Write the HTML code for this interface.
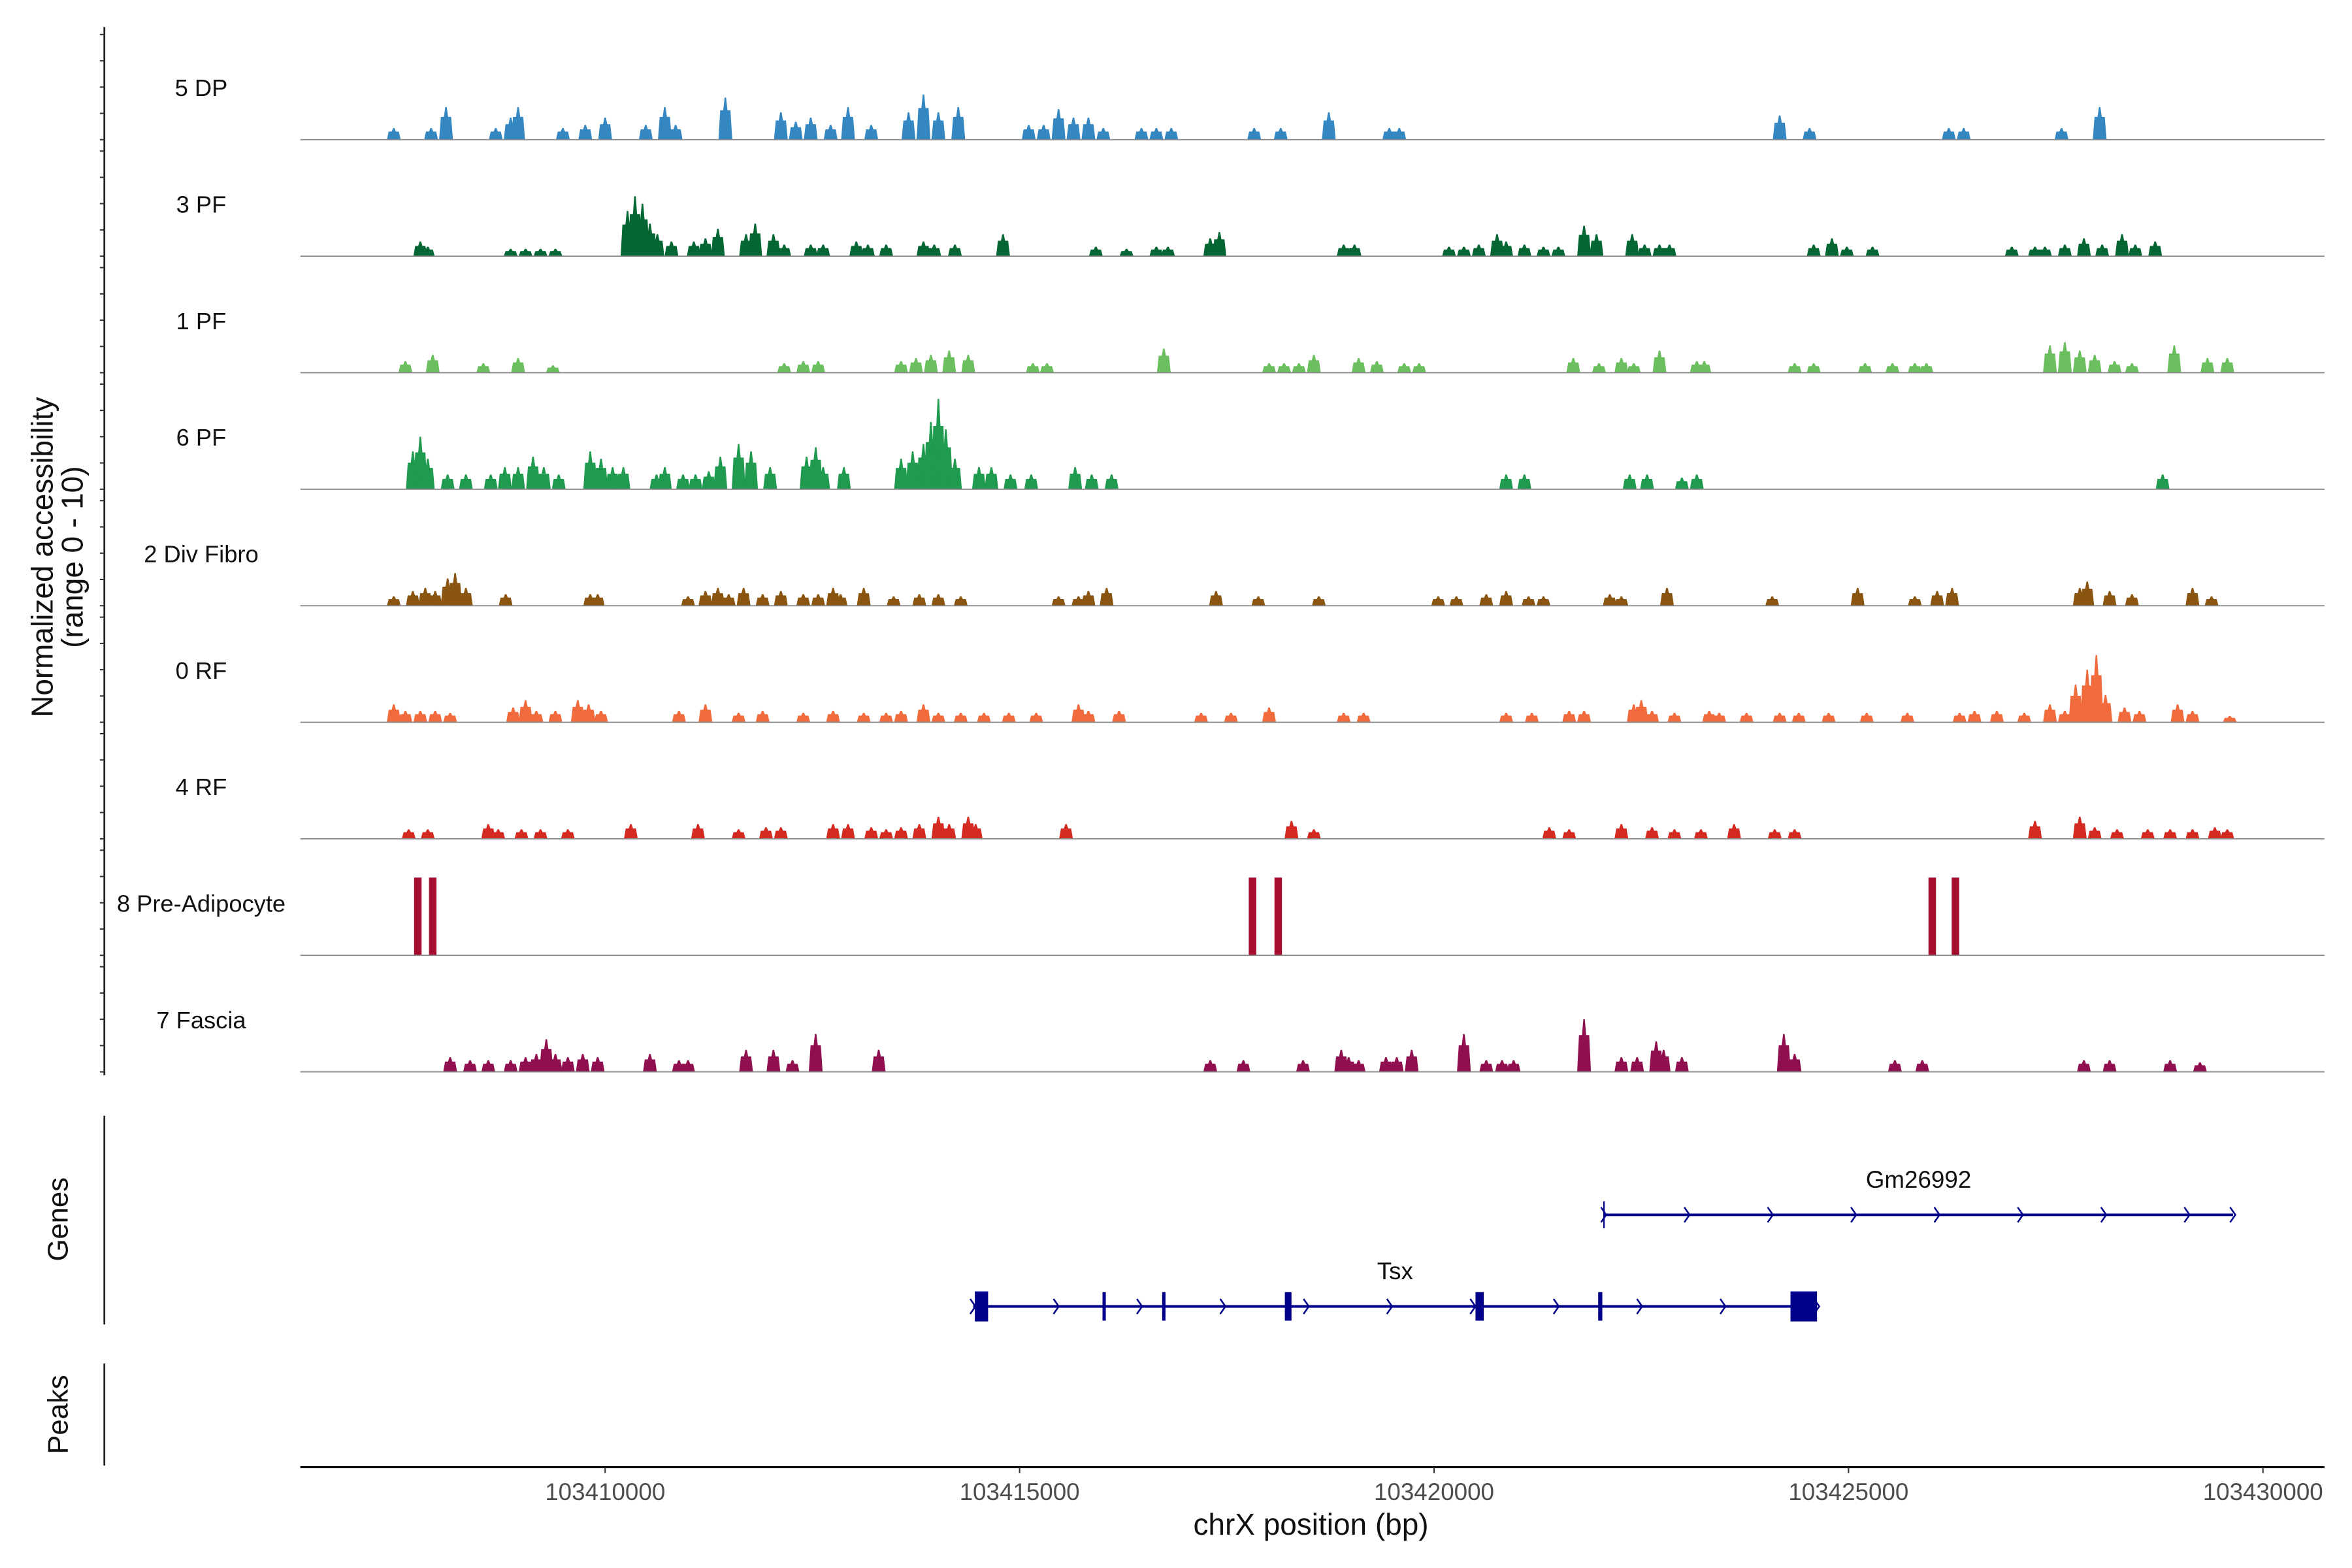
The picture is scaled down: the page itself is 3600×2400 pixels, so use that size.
<!DOCTYPE html>
<html><head><meta charset="utf-8"><style>
html,body{margin:0;padding:0;background:#fff;}
svg{display:block;font-family:"Liberation Sans",Arial,sans-serif;}
</style></head><body>
<svg id="chart" width="3600" height="2400" viewBox="0 0 1566.3 1044.2" preserveAspectRatio="none" xmlns="http://www.w3.org/2000/svg">
<rect x="0" y="0" width="1570" height="1050" fill="#fff"/>
<g id="tracks"></g>
<g id="genes"></g>
<g id="axes"></g>
</svg>
<script>
// positions in kb (genomic), values are normalized accessibility (0-10)
const xTickValues = [103410000, 103415000, 103420000, 103425000, 103430000];
const xTickLabels = ["103410000", "103415000", "103420000", "103425000", "103430000"];
const trackNames = ["5 DP", "3 PF", "1 PF", "6 PF", "2 Div Fibro", "0 RF", "4 RF", "8 Pre-Adipocyte", "7 Fascia"];
const trackColors = ["#3587c1", "#036633", "#6bbf5f", "#1f9a4e", "#8a5510", "#f26b3d", "#d42a22", "#a50e2f", "#8f0f4f"];

const dpPos = [103407.45,103407.90,103408.08,103408.68,103408.86,103408.95,103409.49,103409.76,103410.00,103410.49,103410.72,103410.85,103411.45,103412.12,103412.30,103412.48,103412.72,103412.93,103413.21,103413.66,103413.84,103414.02,103414.26,103415.11,103415.29,103415.47,103415.65,103415.83,103416.01,103416.47,103416.65,103416.83,103417.83,103418.15,103418.73,103419.46,103419.58,103424.17,103424.53,103426.21,103426.39,103427.57,103428.03];
const dpVal = [1.1,1.1,3.1,1.1,2.1,3.1,1.1,1.4,2.1,1.4,3.1,1.4,4.0,2.6,1.7,2.1,1.4,3.1,1.4,2.6,4.3,2.6,3.1,1.4,1.4,2.9,2.1,2.1,1.1,1.1,1.1,1.1,1.1,1.1,2.6,1.1,1.1,2.3,1.1,1.1,1.1,1.1,3.1];

const pf3Pos = [103407.77,103407.86,103408.86,103409.04,103409.22,103409.40,103410.27,103410.36,103410.45,103410.54,103410.63,103410.80,103411.07,103411.21,103411.36,103411.70,103411.81,103412.03,103412.16,103412.48,103412.63,103413.03,103413.17,103413.39,103413.84,103413.97,103414.22,103414.80,103415.92,103416.29,103416.65,103416.79,103417.30,103417.41,103418.91,103419.04,103420.18,103420.36,103420.54,103420.76,103420.87,103421.09,103421.32,103421.50,103421.81,103421.96,103422.39,103422.54,103422.72,103422.84,103424.58,103424.80,103424.98,103425.29,103426.97,103427.25,103427.37,103427.61,103427.84,103428.06,103428.30,103428.46,103428.70];
const pf3Val = [1.4,0.9,0.7,0.7,0.7,0.7,4.3,5.7,5.0,3.1,2.1,1.4,1.4,1.7,2.6,2.1,3.1,2.1,1.1,1.1,1.1,1.4,1.1,1.1,1.4,1.1,1.1,2.1,0.9,0.7,0.9,0.9,1.7,2.3,1.1,1.1,0.9,0.9,1.1,2.1,1.4,1.1,0.9,0.9,2.9,2.1,2.1,1.1,1.1,1.1,1.1,1.7,0.9,0.9,0.9,0.9,0.9,1.1,1.7,1.1,2.1,1.1,1.4];

const pf1Pos = [103407.59,103407.92,103408.53,103408.95,103409.37,103412.16,103412.39,103412.57,103413.57,103413.75,103413.93,103414.15,103414.38,103415.16,103415.33,103416.74,103418.01,103418.19,103418.37,103418.55,103419.09,103419.31,103419.64,103419.82,103421.68,103421.99,103422.26,103422.41,103422.72,103423.17,103423.26,103424.35,103424.58,103425.20,103425.53,103425.80,103425.94,103427.43,103427.61,103427.79,103427.97,103428.21,103428.42,103428.93,103429.33,103429.57];
const pf1Val = [1.1,1.7,0.9,1.4,0.7,0.9,1.1,1.1,1.1,1.4,1.7,2.1,1.7,0.9,0.9,2.3,0.9,0.9,0.9,1.7,1.4,1.1,0.9,0.9,1.4,0.9,1.4,0.9,2.1,1.1,1.1,0.9,0.9,0.9,0.9,0.9,0.9,2.6,2.9,2.1,1.7,1.1,0.9,2.6,1.4,1.4];

const pf6Pos = [103407.68,103407.77,103407.86,103408.10,103408.32,103408.62,103408.79,103408.95,103409.13,103409.26,103409.44,103409.82,103409.95,103410.09,103410.22,103410.62,103410.72,103410.94,103411.09,103411.25,103411.39,103411.61,103411.76,103411.99,103412.43,103412.54,103412.63,103412.88,103413.57,103413.71,103413.84,103413.93,103414.02,103414.11,103414.22,103414.51,103414.66,103414.89,103415.14,103415.67,103415.87,103416.11,103420.87,103421.09,103422.36,103422.57,103422.99,103423.17,103428.79];
const pf6Val = [3.6,5.0,2.9,1.4,1.4,1.4,2.1,2.1,3.1,2.1,1.4,3.6,2.9,2.1,2.1,1.4,2.1,1.4,1.4,1.7,3.1,4.3,3.6,2.1,3.1,4.0,2.1,2.1,2.9,3.6,4.3,6.4,8.6,5.7,2.9,2.1,2.1,1.4,1.4,2.1,1.4,1.4,1.4,1.4,1.4,1.4,1.1,1.4,1.4];

const divPos = [103407.45,103407.68,103407.83,103407.95,103408.10,103408.19,103408.32,103408.80,103409.82,103409.91,103411.00,103411.21,103411.36,103411.49,103411.67,103411.90,103412.12,103412.39,103412.57,103412.75,103412.84,103413.12,103413.48,103413.79,103414.02,103414.29,103415.47,103415.71,103415.83,103416.05,103417.37,103417.88,103418.61,103420.05,103420.27,103420.63,103420.87,103421.14,103421.32,103422.12,103422.26,103422.81,103424.08,103425.11,103425.80,103426.07,103426.25,103427.79,103427.88,103428.15,103428.42,103429.15,103429.38];
const divVal = [0.9,1.4,1.7,1.4,2.6,3.1,1.7,1.1,1.1,1.1,0.9,1.4,1.7,1.1,1.7,1.1,1.4,1.1,1.1,1.7,1.1,1.7,0.9,1.1,1.1,0.9,0.9,0.9,1.4,1.7,1.4,0.9,0.9,0.9,0.9,1.1,1.4,0.9,0.9,1.1,0.9,1.7,0.9,1.7,0.9,1.4,1.7,1.7,2.3,1.4,1.1,1.7,0.9];

const rf0Pos = [103407.45,103407.59,103407.77,103407.95,103408.13,103408.89,103409.04,103409.17,103409.40,103409.67,103409.80,103409.95,103410.89,103411.21,103411.61,103411.90,103412.39,103412.75,103413.12,103413.39,103413.57,103413.84,103414.02,103414.29,103414.57,103414.87,103415.20,103415.71,103415.83,103416.20,103417.19,103417.55,103418.01,103418.91,103419.15,103420.87,103421.18,103421.63,103421.81,103422.41,103422.50,103422.63,103422.90,103423.32,103423.44,103423.77,103424.17,103424.40,103424.76,103425.22,103425.71,103426.34,103426.52,103426.79,103427.12,103427.43,103427.61,103427.74,103427.88,103427.99,103428.10,103428.33,103428.51,103428.97,103429.15,103429.60];
const rf0Val = [1.7,1.1,1.1,1.1,0.9,1.4,2.1,1.1,1.1,2.1,1.7,1.1,1.1,1.7,0.9,1.1,0.9,1.1,0.9,0.9,1.1,1.7,0.9,0.9,0.9,0.9,0.9,1.7,1.1,1.1,0.9,0.9,1.4,0.9,0.9,0.9,0.9,1.1,1.1,1.7,2.1,1.1,0.9,1.1,0.9,0.9,0.9,0.9,0.9,0.9,0.9,0.9,1.1,1.1,0.9,1.7,1.1,3.6,5.0,6.4,2.6,1.4,1.1,1.7,1.1,0.6];

const rf4Pos = [103407.63,103407.86,103408.59,103408.71,103408.99,103409.22,103409.55,103410.31,103411.12,103411.61,103411.94,103412.12,103412.75,103412.93,103413.21,103413.39,103413.57,103413.79,103414.02,103414.15,103414.38,103414.47,103415.56,103418.28,103418.55,103421.39,103421.63,103422.26,103422.63,103422.90,103423.22,103423.62,103424.11,103424.35,103427.25,103427.79,103427.97,103428.24,103428.61,103428.88,103429.15,103429.42,103429.57];
const rf4Val = [0.9,0.9,1.4,0.9,0.9,0.9,0.9,1.4,1.4,0.9,1.1,1.1,1.4,1.4,1.1,0.9,1.1,1.4,2.1,1.4,2.1,1.4,1.4,1.7,0.9,1.1,0.9,1.4,1.1,0.9,0.9,1.4,0.9,0.9,1.7,2.1,1.1,0.9,0.9,0.9,0.9,1.1,0.9];

const preAdPos = [103407.74,103407.92,103417.81,103418.12,103426.01,103426.29];
const preAdVal = [7.4,7.4,7.4,7.4,7.4,7.4];

const fasPos = [103408.13,103408.37,103408.59,103408.86,103409.04,103409.17,103409.29,103409.40,103409.55,103409.73,103409.91,103410.54,103410.89,103411.00,103411.70,103412.03,103412.26,103412.54,103413.30,103417.30,103417.70,103418.42,103418.88,103418.97,103419.09,103419.42,103419.55,103419.73,103420.36,103420.63,103420.82,103420.96,103421.81,103422.26,103422.45,103422.68,103422.77,103422.99,103424.22,103424.35,103425.56,103425.89,103427.84,103428.15,103428.88,103429.24];
const fasVal = [1.4,1.1,1.1,1.1,1.4,1.7,3.1,1.7,1.4,1.7,1.4,1.7,1.1,1.1,2.1,2.1,1.1,3.6,2.1,1.1,1.1,1.1,2.1,1.4,1.1,1.4,1.4,2.1,3.6,1.1,1.1,1.1,5.0,1.4,1.4,2.9,2.1,1.4,3.6,1.7,1.1,1.1,1.1,1.1,1.1,0.9];

const trackPos = [dpPos, pf3Pos, pf1Pos, pf6Pos, divPos, rf0Pos, rf4Pos, preAdPos, fasPos];
const trackVal = [dpVal, pf3Val, pf1Val, pf6Val, divVal, rf0Val, rf4Val, preAdVal, fasVal];

// genes (kb)
const geneNames = ["Gm26992", "Tsx"];
const geneStarts = [103422.05, 103414.44];
const geneEnds = [103429.64, 103424.62];
const tsxExonStarts = [103414.46, 103416.00, 103416.72, 103418.20, 103420.50, 103421.98, 103424.30];
const tsxExonEnds = [103414.62, 103416.04, 103416.76, 103418.28, 103420.60, 103422.03, 103424.62];

const NS = "http://www.w3.org/2000/svg";
function mk(tag, attrs, parent) {
  const e = document.createElementNS(NS, tag);
  for (const k in attrs) e.setAttribute(k, attrs[k]);
  parent.appendChild(e);
  return e;
}
const X0 = 403, PX_PER_KB = 55.2;
function xScale(kb) { return X0 + (kb - 103410) * PX_PER_KB; }
const TRACK_TOP = 23, TRACK_STEP = 77.6, TRACK_H = 70;
function baseY(i) { return TRACK_TOP + TRACK_H + i * TRACK_STEP; }
function yScale(i, v) { return baseY(i) - v / 10 * TRACK_H; }

const tracksG = document.getElementById('tracks');
const genesG = document.getElementById('genes');
const axesG = document.getElementById('axes');

for (let i = 0; i < trackNames.length; i++) {
  const g = mk('g', {}, tracksG);
  
  
  const b = baseY(i);
  const lab = mk('text', {x: 134, y: b - 29, 'font-size': 15.8, 'text-anchor': 'middle', fill: '#111'}, g);
  lab.textContent = trackNames[i];
  
  
  const pos = trackPos[i], val = trackVal[i];
  for (let j = 0; j < pos.length; j++) {
    const xc = xScale(pos[j]);
    const yt = yScale(i, val[j]);
    let pts;
    if (i === 7) {
      pts = [[xc-2.5,b],[xc-2.5,yt],[xc+2.5,yt],[xc+2.5,b]];
    } else {
      const w = 4.6;
      const ym = b - (b - yt) * 0.7;
      pts = [[xc-w,b],[xc-w+1.2,ym],[xc-1.4,ym],[xc-0.5,yt],[xc+0.5,yt],[xc+1.4,ym],[xc+w-1.2,ym],[xc+w,b]];
    }
    const p = mk('polygon', {points: pts.map(q => q[0].toFixed(2)+','+q[1].toFixed(2)).join(' '), fill: trackColors[i]}, g);
    
    
  }
  const bl = mk('line', {x1: 200, x2: 1548, y1: b, y2: b, stroke: '#888', 'stroke-width': 0.8}, g);
  
  
}

const yAxis = mk('line', {x1: 69.5, x2: 69.5, y1: 18, y2: 716, stroke: '#222', 'stroke-width': 1.2}, axesG);


for (let i = 0; i < trackNames.length; i++) {
  for (let k = 0; k <= 4; k++) {
    const y = baseY(i) - k * TRACK_H / 4;
    const t = mk('line', {x1: 66.5, x2: 69.5, y1: y, y2: y, stroke: '#333', 'stroke-width': 0.9}, axesG);
    
    
  }
}
const yt1 = mk('text', {x: 0, y: 0, 'font-size': 20, 'text-anchor': 'middle', fill: '#111', transform: 'translate(35,371) rotate(-90)'}, axesG);
yt1.textContent = 'Normalized accessibility';


const yt2 = mk('text', {x: 0, y: 0, 'font-size': 20, 'text-anchor': 'middle', fill: '#111', transform: 'translate(55,371) rotate(-90)'}, axesG);
yt2.textContent = '(range 0 - 10)';



const gAxis = mk('line', {x1: 69.5, x2: 69.5, y1: 743, y2: 882, stroke: '#222', 'stroke-width': 1.2}, axesG);


const gLab = mk('text', {x: 0, y: 0, 'font-size': 19, 'text-anchor': 'middle', fill: '#111', transform: 'translate(45,812) rotate(-90)'}, axesG);
gLab.textContent = 'Genes';


const pAxis = mk('line', {x1: 69.5, x2: 69.5, y1: 908, y2: 976, stroke: '#222', 'stroke-width': 1.2}, axesG);


const pLab = mk('text', {x: 0, y: 0, 'font-size': 19, 'text-anchor': 'middle', fill: '#111', transform: 'translate(45,942) rotate(-90)'}, axesG);
pLab.textContent = 'Peaks';



const geneY = [809, 870];
const NAVY = '#00008b';
function chevron(g, x, y) {
  const c = mk('polyline', {points: (x-2)+','+(y-5)+' '+(x+1.5)+','+y+' '+(x-2)+','+(y+5), fill: 'none', stroke: NAVY, 'stroke-width': 1.1}, g);
  
  
}
for (let i = 0; i < geneNames.length; i++) {
  const g = mk('g', {}, genesG);
  
  
  const x1 = xScale(geneStarts[i]), x2 = xScale(geneEnds[i]), y = geneY[i];
  const ln = mk('line', {x1: x1, x2: x2, y1: y, y2: y, stroke: NAVY, 'stroke-width': 1.7}, g);
  
  
  const lb = mk('text', {x: (x1 + x2) / 2, y: y - 18, 'font-size': 16, 'text-anchor': 'middle', fill: '#111'}, g);
  lb.textContent = geneNames[i];
  
  
  for (let x = x1; x <= x2 + 0.5; x += 55.5) chevron(g, x, y);
  chevron(g, x2, y);
  if (i === 0) {
    const st = mk('line', {x1: x1, x2: x1, y1: y - 9, y2: y + 9, stroke: NAVY, 'stroke-width': 1}, g);
    
    
  } else {
    for (let e = 0; e < tsxExonStarts.length; e++) {
      const ex1 = xScale(tsxExonStarts[e]), ex2 = xScale(tsxExonEnds[e]);
      const big = (ex2 - ex1) > 6;
      const r = mk('rect', {x: ex1, y: y - (big ? 10 : 9.5), width: Math.max(ex2 - ex1, 1.2), height: big ? 20 : 19, fill: NAVY}, g);
      
      
    }
  }
}

const xAxis = mk('line', {x1: 200, x2: 1548, y1: 977, y2: 977, stroke: '#111', 'stroke-width': 1.4}, axesG);


for (let i = 0; i < xTickValues.length; i++) {
  const x = xScale(xTickValues[i] / 1000);
  const t = mk('line', {x1: x, x2: x, y1: 977, y2: 981, stroke: '#333', 'stroke-width': 0.9}, axesG);
  
  
  const l = mk('text', {x: x, y: 999, 'font-size': 16, 'text-anchor': 'middle', fill: '#4d4d4d'}, axesG);
  l.textContent = xTickLabels[i];
  
  
}
const xt = mk('text', {x: 873, y: 1022, 'font-size': 20, 'text-anchor': 'middle', fill: '#111'}, axesG);
xt.textContent = 'chrX position (bp)';


</script>
</body></html>
